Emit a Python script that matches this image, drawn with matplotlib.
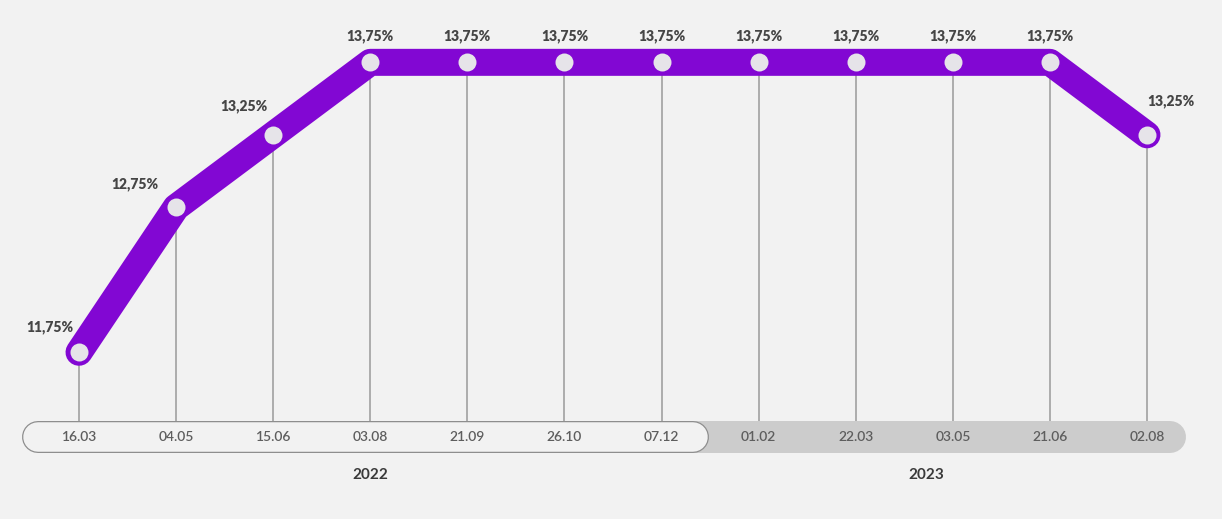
import numpy as np
import matplotlib
matplotlib.use("Agg")
import matplotlib.pyplot as plt

# --- data ---
dates = ["16.03", "04.05", "15.06", "03.08", "21.09", "26.10", "07.12",
         "01.02", "22.03", "03.05", "21.06", "02.08"]
rates = [11.75, 12.75, 13.25, 13.75, 13.75, 13.75, 13.75,
         13.75, 13.75, 13.75, 13.75, 13.25]
years = ["2022", "2023"]
year_pos = [3.0, 8.73]          # centre of each year group, in date-index units

# label offsets (points) relative to each marker
lab_off = [(-21, 18), (-30, 17), (-21, 21)] + [(0, 19)] * 8 + [(17, 24)]

BG = "#F2F2F2"
PURPLE = "#8207D3"
DPI = 100
PX = 72 / DPI                   # pixels -> points

plt.rcParams["font.family"] = ["Lato", "DejaVu Sans"]

fig = plt.figure(figsize=(12.22, 5.19), dpi=DPI, facecolor=BG)
ax = fig.add_axes([0, 0, 1, 1])
ax.set_facecolor(BG)
ax.axis("off")

x = np.arange(len(dates))
ax.set_xlim(-0.8137, 11.7725)
ax.set_ylim(10.60, 14.18)

# timeline bar (axes-fraction y)
bar_y = (519 - 437) / 519
bar_top = (519 - 421) / 519
trans = ax.get_xaxis_transform()
ax.plot([6.0, 11.237], [bar_y, bar_y], transform=trans, color="#CCCCCC",
        lw=32 * PX, solid_capstyle="round", zorder=1)
ax.plot([-0.4223, 6.324], [bar_y, bar_y], transform=trans, color="#8E8E8E",
        lw=32 * PX, solid_capstyle="round", zorder=2)
ax.plot([-0.4223, 6.324], [bar_y, bar_y], transform=trans, color=BG,
        lw=29.5 * PX, solid_capstyle="round", zorder=3)

for i, d in enumerate(dates):
    ax.text(x[i], bar_y, d, transform=trans, ha="center", va="center",
            fontsize=10, fontweight="semibold", color="#5E5E5E", zorder=5)

for yr, xp in zip(years, year_pos):
    ax.text(xp, (519 - 475) / 519, yr, transform=trans, ha="center",
            va="center", fontsize=11, fontweight="bold", color="#3A3A3A")

# drop lines
y0, y1 = ax.get_ylim()
y_bar_top = y0 + bar_top * (y1 - y0)
ax.vlines(x, y_bar_top, rates, color="#9A9A9A", lw=1.1, zorder=1)

# main line
ax.plot(x, rates, color=PURPLE, lw=27 * PX, solid_capstyle="round",
        solid_joinstyle="round", zorder=4)
ax.plot(x, rates, "o", ms=18 * PX, mfc="#E6E4E9", mec="none", zorder=6)

for i, r in enumerate(rates):
    ax.annotate(f"{r:.2f}%".replace(".", ","), (x[i], r),
                xytext=lab_off[i], textcoords="offset points",
                ha="center", va="center", fontsize=10, fontweight="heavy",
                color="#454545", zorder=7)

fig.savefig("out.png", dpi=DPI, facecolor=BG)
